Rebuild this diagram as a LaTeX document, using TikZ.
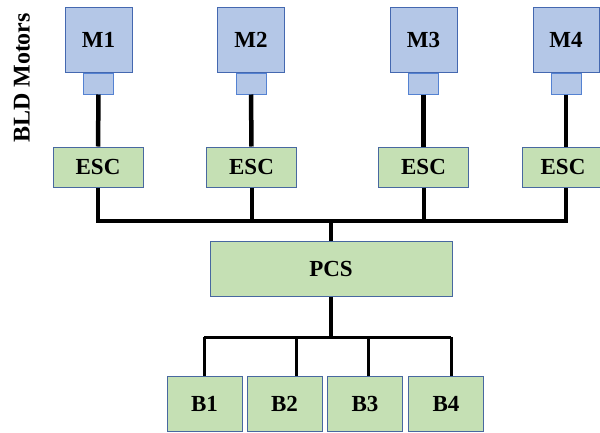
\documentclass[tikz,border=0pt]{standalone}
\usepackage{fontspec}
\setmainfont{Liberation Serif}
\usetikzlibrary{positioning}
\definecolor{motorblue}{RGB}{180,199,231}
\definecolor{motorline}{RGB}{68,104,176}
\definecolor{shaftline}{RGB}{84,130,210}
\definecolor{escgreen}{RGB}{197,224,180}
\definecolor{escline}{RGB}{72,104,160}

\begin{document}
\begin{tikzpicture}[x=1pt, y=-1pt,
  every node/.style={font=\fontsize{23}{23}\selectfont\bfseries, inner sep=0pt},
  motor/.style={draw=motorline, fill=motorblue, line width=1pt,
    minimum width=67pt, minimum height=65pt},
  shaft/.style={draw=shaftline, fill=motorblue, line width=1pt,
    minimum width=30pt, minimum height=21pt},
  esc/.style={draw=escline, fill=escgreen, line width=1pt,
    minimum width=90pt, minimum height=40pt},
  battery/.style={draw=escline, fill=escgreen, line width=1pt,
    minimum width=75pt, minimum height=55pt},
  wire/.style={line width=4.5pt},
  busline/.style={line width=4pt},
  thinbus/.style={line width=3pt}]
\useasboundingbox (0,0) rectangle (600,432);
%%% motors %%%

      \node[rotate=90, font=\fontsize{24}{24}\selectfont\bfseries] (title) at (22,78) {BLD Motors};
      %%
      \node[motor] (m1) at (98.5,39.5) {M1};
      \node[motor] (m2) at (251,39.5) {M2};
      \node[motor] (m3) at (423.5,39.5) {M3};
      \node[motor, minimum width=66pt] (m4) at (566,39.5) {M4};
      %%
      \node[shaft, below=0pt of m1] (m1s) {};
      \node[shaft, below=0pt of m2] (m2s) {};
      \node[shaft, below=0pt of m3] (m3s) {};
      \node[shaft, below=0pt of m4] (m4s) {};

%%% speed controllers %%%

      \node[esc] (esc1) at (98,167) {ESC};
      \node[esc] (esc2) at (251.5,167) {ESC};
      \node[esc] (esc3) at (423.5,167) {ESC};
      \node[esc, minimum width=82pt] (esc4) at (563,167) {ESC};
      %%
      \draw[wire] (m1s.south) -- (esc1.north);
      \draw[wire] (m2s.south) -- (esc2.north);
      \draw[wire] (m3s.south) -- (esc3.north);
      \draw[wire] (m4s.south) -- (m4s.south |- esc4.north);

%%% power control %%%

      \node[esc, minimum width=242pt, minimum height=55pt] (pcs) at (331,268.5) {PCS};
      \coordinate (bus) at (331,221);
      %%
      \draw[busline] (esc1.south) |- (bus) -| (m4s.south |- esc4.south);
      \draw[busline] (esc2.south) -- (esc2.south |- bus);
      \draw[busline] (esc3.south) -- (esc3.south |- bus);
      \draw[wire] (bus) -- (pcs.north);

%%% batteries %%%

      \node[battery] (b1) at (204.5,403.5) {B1};
      \node[battery] (b2) at (284.5,403.5) {B2};
      \node[battery] (b3) at (365,403.5) {B3};
      \node[battery] (b4) at (446,403.5) {B4};
      %%
      \coordinate (bbus) at (331,337);
      \coordinate (d1) at (204,337);
      \coordinate (d2) at (296,337);
      \coordinate (d3) at (368,337);
      \coordinate (d4) at (451,337);
      \draw[wire] (pcs.south) -- (bbus);
      \draw[thinbus] (d1) -- (d4);
      \draw[thinbus] (d1) -- (d1 |- b1.north);
      \draw[thinbus] (d2) -- (d2 |- b2.north);
      \draw[thinbus] (d3) -- (d3 |- b3.north);
      \draw[thinbus] (d4) -- (d4 |- b4.north);

\end{tikzpicture}
\end{document}
